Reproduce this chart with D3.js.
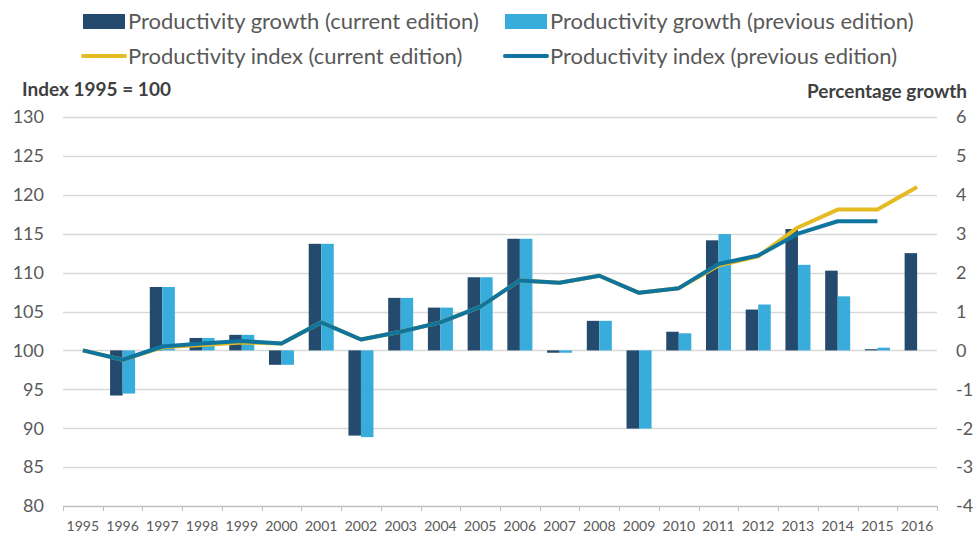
<!DOCTYPE html>
<html lang="en">
<head>
<meta charset="UTF-8">
<title>Productivity</title>
<style>
    body { margin: 0; background: #fff; }
    svg text { font-family: Lato, "Liberation Sans", sans-serif; fill: #595959; }
    .legend text { font-size: 22px; }
    .axis-title { font-size: 19px; font-weight: bold; fill: #404040; }
    .ytick { font-size: 18px; }
    .xtick { font-size: 14px; }
</style>
</head>
<body>
<div id="chart"></div>
<script src="https://cdnjs.cloudflare.com/ajax/libs/d3/7.8.5/d3.min.js"></script>
<script>
var years = d3.range(1995, 2017).map(String)

// percentage growth, right axis
var growthCurrent = [0, -1.16, 1.63, 0.32, 0.40, -0.37, 2.74, -2.19, 1.35, 1.10, 1.88, 2.87, -0.06, 0.76, -2.01, 0.48, 2.83, 1.05, 3.12, 2.05, 0.03, 2.50]
var growthPrevious = [0, -1.11, 1.63, 0.32, 0.40, -0.37, 2.74, -2.23, 1.35, 1.10, 1.88, 2.87, -0.06, 0.76, -2.01, 0.44, 2.99, 1.18, 2.20, 1.39, 0.07, null]

// index 1995 = 100, left axis
var indexCurrent = [100, 98.8, 100.4, 100.7, 101.0, 100.9, 103.6, 101.4, 102.4, 103.6, 105.6, 109.0, 108.7, 109.6, 107.4, 108.0, 110.9, 112.1, 115.8, 118.1, 118.1, 121.0]
var indexPrevious = [100, 98.8, 100.5, 100.9, 101.2, 100.9, 103.6, 101.4, 102.4, 103.6, 105.6, 109.0, 108.7, 109.6, 107.4, 108.0, 111.1, 112.2, 115.0, 116.6, 116.6]

var leftTicks = d3.range(80, 131, 5)
var rightTicks = d3.range(-4, 7, 1)

var legendItems = [
    {label: "Productivity growth (current edition)", type: "bar", color: "#244a6d"},
    {label: "Productivity growth (previous edition)", type: "bar", color: "#38acda"},
    {label: "Productivity index (current edition)", type: "line", color: "#e4bb22"},
    {label: "Productivity index (previous edition)", type: "line", color: "#10759e"}
]

var width = 973, height = 537
var margin = {top: 117, right: 36, bottom: 31, left: 63}

var svg = d3.select("#chart").append("svg")
    .attr("width", width)
    .attr("height", height)

var x = d3.scaleBand().domain(years)
    .range([margin.left, width - margin.right])
    .paddingInner(0.37).paddingOuter(0.185)
var xSub = d3.scaleBand().domain(["cur", "prev"]).range([0, x.bandwidth()])
var yLeft = d3.scaleLinear().domain([80, 130]).range([height - margin.bottom, margin.top])
var yRight = d3.scaleLinear().domain([-4, 6]).range([height - margin.bottom, margin.top])

// gridlines
svg.append("g").selectAll("line")
    .data(leftTicks)
    .enter().append("line")
    .attr("x1", margin.left).attr("x2", width - margin.right)
    .attr("y1", function (d) { return Math.round(yLeft(d)) + 0.5 })
    .attr("y2", function (d) { return Math.round(yLeft(d)) + 0.5 })
    .attr("stroke", function (d) { return d === 80 ? "#bfbfbf" : "#d9d9d9" })
    .attr("stroke-width", 1.3)

// x tick marks at category boundaries
var step = x.step()
var x0 = margin.left
svg.append("g").selectAll("line")
    .data(d3.range(years.length + 1))
    .enter().append("line")
    .attr("x1", function (i) { return Math.round(x0 + i * step) + 0.5 })
    .attr("x2", function (i) { return Math.round(x0 + i * step) + 0.5 })
    .attr("y1", yLeft(80)).attr("y2", yLeft(80) + 5)
    .attr("stroke", "#bfbfbf")

// bars
function drawBars(values, key, color) {
    svg.append("g").selectAll("rect")
        .data(years.map(function (y, i) { return {year: y, v: values[i]} }).filter(function (d) { return d.v != null }))
        .enter().append("rect")
        .attr("x", function (d) { return x(d.year) + xSub(key) })
        .attr("width", xSub.bandwidth())
        .attr("y", function (d) { return yRight(Math.max(0, d.v)) })
        .attr("height", function (d) { return Math.abs(yRight(d.v) - yRight(0)) })
        .attr("fill", color)
}
drawBars(growthCurrent, "cur", legendItems[0].color)
drawBars(growthPrevious, "prev", legendItems[1].color)

// lines
var line = d3.line()
    .x(function (d, i) { return x(years[i]) + x.bandwidth() / 2 })
    .y(function (d) { return yLeft(d) })

svg.append("path").datum(indexCurrent)
    .attr("d", line).attr("fill", "none")
    .attr("stroke", legendItems[2].color).attr("stroke-width", 4)
    .attr("stroke-linejoin", "round")
svg.append("path").datum(indexPrevious)
    .attr("d", line).attr("fill", "none")
    .attr("stroke", legendItems[3].color).attr("stroke-width", 4)
    .attr("stroke-linejoin", "round")

// axes labels
svg.append("g").selectAll("text")
    .data(leftTicks)
    .enter().append("text")
    .attr("class", "ytick")
    .attr("x", 44).attr("y", function (d) { return yLeft(d) })
    .attr("dy", "0.35em").attr("text-anchor", "end")
    .text(function (d) { return d })

svg.append("g").selectAll("text")
    .data(rightTicks)
    .enter().append("text")
    .attr("class", "ytick")
    .attr("x", 956).attr("y", function (d) { return yRight(d) })
    .attr("dy", "0.35em").attr("text-anchor", "start")
    .text(function (d) { return d })

svg.append("g").selectAll("text")
    .data(years)
    .enter().append("text")
    .attr("class", "xtick")
    .attr("x", function (d) { return x(d) + x.bandwidth() / 2 })
    .attr("y", 526).attr("dy", "0.35em").attr("text-anchor", "middle")
    .text(function (d) { return d })

svg.append("text").attr("class", "axis-title")
    .attr("x", 22).attr("y", 96).text("Index 1995 = 100")
svg.append("text").attr("class", "axis-title")
    .attr("x", 967).attr("y", 98).attr("text-anchor", "end").text("Percentage growth")

// legend
var legend = svg.append("g").attr("class", "legend")
var lpos = [[83, 21], [505, 21], [83, 56], [505, 56]]
legendItems.forEach(function (item, i) {
    var g = legend.append("g").attr("transform", "translate(" + lpos[i][0] + "," + lpos[i][1] + ")")
    if (item.type === "bar") {
        g.append("rect").attr("x", 0).attr("y", -7).attr("width", 42).attr("height", 15).attr("fill", item.color)
    } else {
        g.append("line").attr("x1", 0).attr("x2", 42).attr("y1", 0).attr("y2", 0)
            .attr("stroke", item.color).attr("stroke-width", 4).attr("stroke-linecap", "round")
    }
    g.append("text").attr("x", 45).attr("dy", "0.35em").text(item.label)
})
</script>
</body>
</html>
